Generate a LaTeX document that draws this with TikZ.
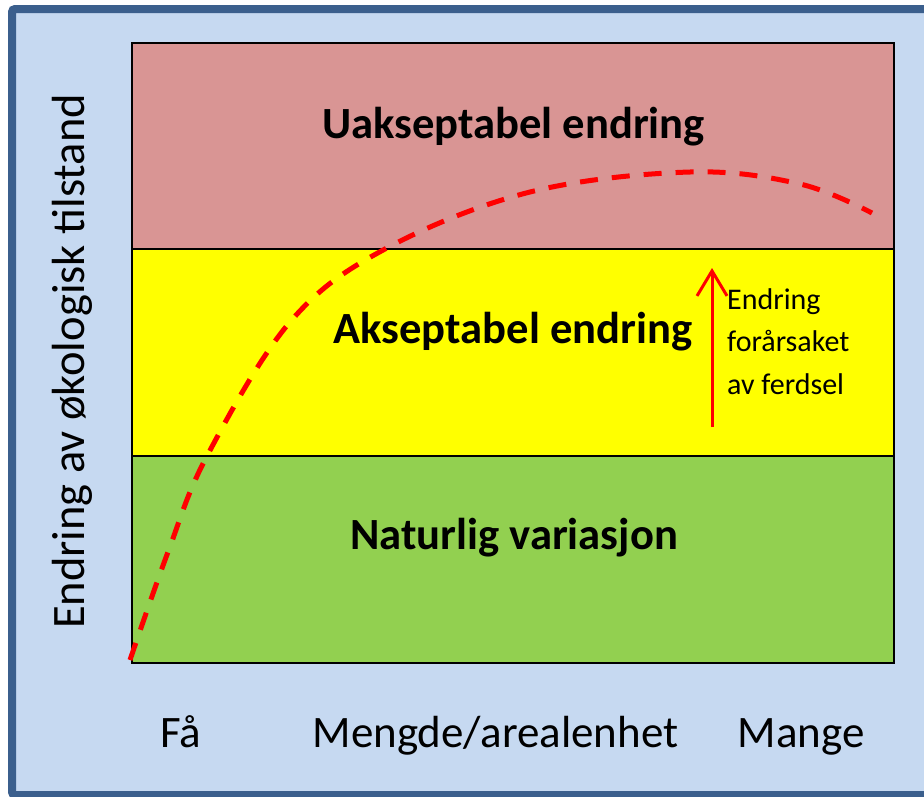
\documentclass[tikz,border=0pt]{standalone}
\usepackage{fontspec}
\setmainfont{Carlito}
\usetikzlibrary{arrows.meta}
\definecolor{bgblue}{HTML}{C6D9F1}
\definecolor{frameblue}{HTML}{3B5F8D}
\definecolor{bandred}{HTML}{D99594}
\definecolor{bandyellow}{HTML}{FFFF00}
\definecolor{bandgreen}{HTML}{92D050}
\tikzset{
  band/.style={draw=black, line width=2pt},
  bandlabel/.style={font=\fontsize{44.6}{46}\selectfont\bfseries, text=black},
  axislabel/.style={font=\fontsize{45}{48}\selectfont, text=black, anchor=base},
  note/.style={font=\fontsize{30}{42.5}\selectfont, text=black, align=left},
  curve/.style={red, line width=5pt, dash pattern=on 18pt off 14pt},
  change/.style={red, line width=3pt, -{Straight Barb[length=25pt, width=30pt, line width=3pt]}}
}
\begin{document}
\begin{tikzpicture}[x=1pt, y=-1pt]
\useasboundingbox (0,0) rectangle (924,796);
\fill[white] (0,0) rectangle (924,796);
\draw[frameblue, fill=bgblue, line width=8pt, rounded corners=3pt] (12,9) rectangle (950,795);
% bands
\fill[bandred] (132,43) rectangle (894,249);
\fill[bandyellow] (132,249) rectangle (894,456);
\fill[bandgreen] (132,456) rectangle (894,663);
\draw[black, line width=1.5pt] (132,249) -- (894,249);
\draw[black, line width=1.5pt] (132,456) -- (894,456);
\draw[band] (132,43) rectangle (894,663);
\node[bandlabel] (ua) at (513.5,127) {Uakseptabel endring};
\node[bandlabel] (ak) at (513,332) {Akseptabel endring};
\node[bandlabel] (na) at (514,538) {Naturlig variasjon};
% curve
\draw[curve] plot[smooth, tension=0.6] coordinates {(130,660) (168,552) (207,456) (290,322) (385,249) (530,192) (690,172) (800,184) (872,213)};
% arrow
\coordinate (arrlow) at (712,427);
\coordinate (arrhigh) at (712,268);
\draw[change] (arrlow) -- (arrhigh);
\node[note, anchor=north west, inner sep=0pt] (nt) at (727,288) {Endring\\forårsaket\\av ferdsel};
% axis labels
\node[axislabel] (fa) at (181,747) {Få};
\node[axislabel] (me) at (495.5,747) {Mengde/arealenhet};
\node[axislabel] (ma) at (801,747) {Mange};
\node[font=\fontsize{46.5}{48}\selectfont, rotate=90] (yl) at (72,361.5) {Endring av økologisk tilstand};
\end{tikzpicture}
\end{document}
